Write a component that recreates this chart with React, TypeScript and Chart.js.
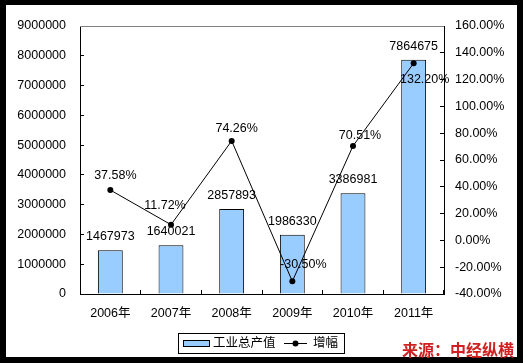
import React, { useEffect, useRef } from "react";
import { Chart, registerables } from "chart.js";

Chart.register(...registerables);

const categories = ["2006年", "2007年", "2008年", "2009年", "2010年", "2011年"];
const outputValues = [1467973, 1640021, 2857893, 1986330, 3386981, 7864675];
const growthValues = [37.58, 11.72, 74.26, -30.5, 70.51, 132.2];
const leftAxisMin = 0;
const leftAxisMax = 9000000;
const leftAxisStep = 1000000;
const rightAxisMin = -40;
const rightAxisMax = 160;
const rightAxisStep = 20;
const seriesNames = ["工业总产值", "增幅"];
const sourceText = "来源：中经纵横";

// label placement offsets (px) relative to each line point
const growthLabelOffsets = [
  [5, -14],
  [-6, -19],
  [5, -12],
  [11, -17],
  [7, -10],
  [11, 16],
];

const FONT = '"Liberation Sans", Arial, "Noto Sans CJK SC", sans-serif';
const BAR_COLOR = "#99CCFF";

const decorPlugin = {
  id: "decor",
  beforeDraw(chart: any) {
    const { ctx, width, height } = chart;
    ctx.save();
    ctx.fillStyle = "#000";
    ctx.fillRect(0, 0, width, height);
    ctx.fillStyle = "#fff";
    ctx.fillRect(6, 5, 511, 352);
    ctx.restore();
  },
  afterDatasetsDraw(chart: any) {
    const { ctx, chartArea } = chart;
    ctx.save();
    // top border of plot area
    ctx.strokeStyle = "#808080";
    ctx.lineWidth = 1;
    ctx.beginPath();
    ctx.moveTo(chartArea.left, chartArea.top + 0.5);
    ctx.lineTo(chartArea.right, chartArea.top + 0.5);
    ctx.stroke();

    ctx.font = `12.5px ${FONT}`;
    ctx.fillStyle = "#000";
    ctx.textAlign = "center";
    ctx.textBaseline = "middle";
    const barMeta = chart.getDatasetMeta(1);
    barMeta.data.forEach((el: any, i: number) => {
      ctx.fillText(String(outputValues[i]), el.x, el.y - 13.5);
    });
    const lineMeta = chart.getDatasetMeta(0);
    lineMeta.data.forEach((el: any, i: number) => {
      const off = growthLabelOffsets[i];
      ctx.fillText(growthValues[i].toFixed(2) + "%", el.x + off[0], el.y + off[1]);
    });

    // legend
    ctx.strokeStyle = "#000";
    ctx.lineWidth = 1;
    ctx.strokeRect(178.5, 333.5, 166, 20);
    ctx.fillStyle = BAR_COLOR;
    ctx.fillRect(183.5, 340.5, 26, 6);
    ctx.strokeRect(183.5, 340.5, 26, 6);
    ctx.fillStyle = "#000";
    ctx.textAlign = "left";
    ctx.fillText(seriesNames[0], 213, 344);
    ctx.beginPath();
    ctx.moveTo(284, 343.5);
    ctx.lineTo(307, 343.5);
    ctx.stroke();
    ctx.beginPath();
    ctx.arc(295.5, 343.5, 3, 0, Math.PI * 2);
    ctx.fill();
    ctx.fillText(seriesNames[1], 313, 344);
    ctx.restore();
  },
};

export default function App() {
  const canvasRef = useRef<HTMLCanvasElement | null>(null);

  useEffect(() => {
    document.body.style.margin = "0";
    const canvas = canvasRef.current;
    if (!canvas) return;
    Chart.defaults.font.family = FONT;
    const tickFont = { size: 12.5, family: FONT };
    const chart = new Chart(canvas, {
      type: "bar",
      data: {
        labels: categories,
        datasets: [
          {
            type: "line",
            label: seriesNames[1],
            data: growthValues,
            yAxisID: "y1",
            borderColor: "#000",
            borderWidth: 1,
            backgroundColor: "#000",
            pointBackgroundColor: "#000",
            pointBorderColor: "#000",
            pointRadius: 3,
            pointBorderWidth: 0,
            tension: 0,
            fill: false,
            order: 0,
          } as any,
          {
            type: "bar",
            label: seriesNames[0],
            data: outputValues,
            yAxisID: "y",
            backgroundColor: BAR_COLOR,
            borderColor: "#000",
            borderWidth: 1,
            barPercentage: 0.41,
            categoryPercentage: 1,
            order: 1,
          } as any,
        ],
      },
      options: {
        responsive: false,
        animation: false,
        devicePixelRatio: 1,
        layout: { padding: { top: 26, left: 0, right: 0, bottom: 0 } },
        plugins: {
          legend: { display: false },
          tooltip: { enabled: false },
        },
        scales: {
          x: {
            grid: { drawOnChartArea: false, tickLength: -4, color: "#000", offset: true },
            border: { color: "#000", width: 1 },
            ticks: { font: tickFont, color: "#000", padding: 16, maxRotation: 0 },
            afterFit(s: any) {
              s.height = 69;
            },
          },
          y: {
            position: "left",
            min: leftAxisMin,
            max: leftAxisMax,
            grid: { drawOnChartArea: false, tickLength: -4, color: "#000" },
            border: { color: "#000", width: 1 },
            ticks: {
              stepSize: leftAxisStep,
              font: tickFont,
              color: "#000",
              padding: 18,
              callback: (v: any) => String(v),
            },
            afterFit(s: any) {
              s.width = 80;
            },
          },
          y1: {
            position: "right",
            min: rightAxisMin,
            max: rightAxisMax,
            grid: { drawOnChartArea: false, tickLength: -4, color: "#000" },
            border: { color: "#000", width: 1 },
            ticks: {
              stepSize: rightAxisStep,
              font: tickFont,
              color: "#000",
              padding: 15,
              callback: (v: any) => Number(v).toFixed(2) + "%",
            },
            afterFit(s: any) {
              s.width = 79;
            },
          },
        },
      } as any,
      plugins: [decorPlugin],
    });
    return () => chart.destroy();
  }, []);

  return (
    <div style={{ position: "fixed", left: 0, top: 0, width: 523, height: 363 }}>
      <canvas ref={canvasRef} width={523} height={363} style={{ display: "block" }} />
      <div
        style={{
          position: "absolute",
          left: 402,
          top: 341,
          fontFamily: '"Noto Sans CJK SC", sans-serif',
          fontWeight: 700,
          fontSize: 16,
          lineHeight: "16px",
          color: "#d02020",
          whiteSpace: "nowrap",
        }}
      >
        {sourceText}
      </div>
    </div>
  );
}
